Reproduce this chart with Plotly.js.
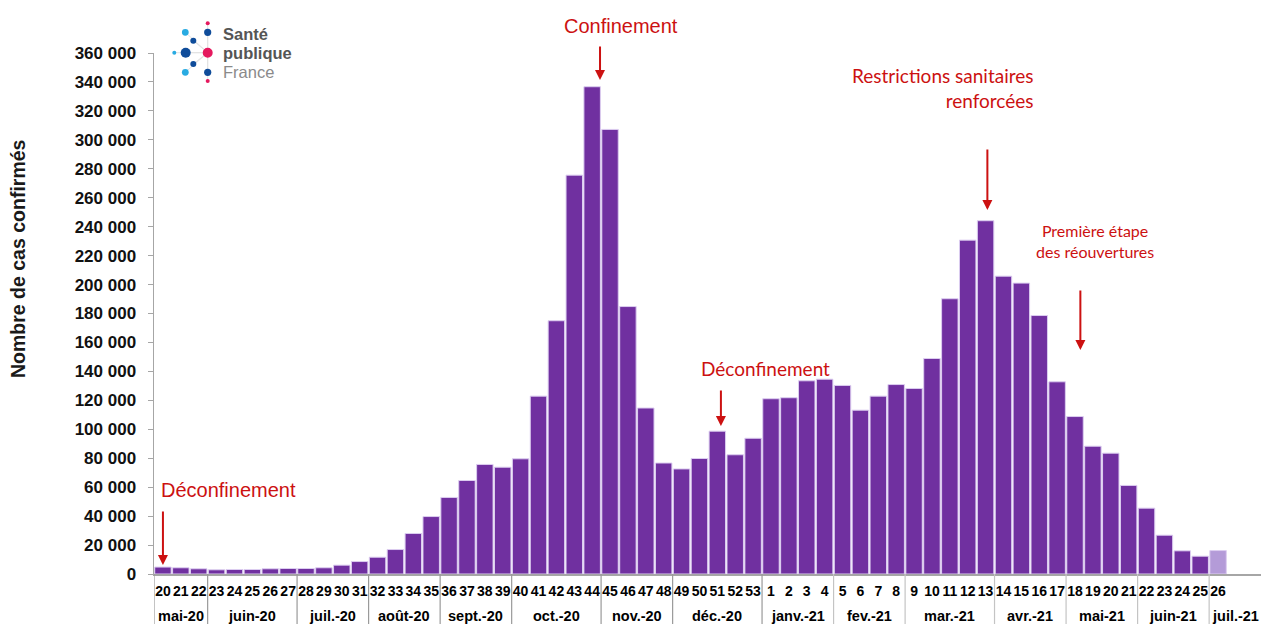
<!DOCTYPE html>
<html>
<head>
<meta charset="utf-8">
<script src="https://cdn.plot.ly/plotly-3.0.1.min.js"></script>
<style>
  html, body { margin: 0; padding: 0; background: #ffffff; }
  #chart { width: 1261px; height: 624px; }
</style>
</head>
<body>
<div id="chart"></div>
<script>
// ---- Data ----
const weeks = [20,21,22,23,24,25,26,27,28,29,30,31,32,33,34,35,36,37,38,39,40,41,42,43,44,45,46,47,48,49,50,51,52,53,
               1,2,3,4,5,6,7,8,9,10,11,12,13,14,15,16,17,18,19,20,21,22,23,24,25,26];
const cases = [4800,4300,3600,2900,3100,3100,3600,3800,3800,4300,6100,8600,11600,16900,28000,39700,52900,64600,75700,73800,
               79600,122900,175000,275600,336700,307200,184800,114700,76700,72600,79800,98700,82400,93800,
               121100,121800,133500,134600,130300,113200,122900,130900,128200,148900,190200,230700,244100,205800,201000,178600,
               132800,108800,88300,83500,61200,45500,26800,16000,12300,16200];
const monthNames = ["mai-20","juin-20","juil.-20","août-20","sept.-20","oct.-20","nov.-20","déc.-20",
                    "janv.-21","fev.-21","mar.-21","avr.-21","mai-21","juin-21","juil.-21"];
const weeksPerMonth = [3,5,4,4,4,5,4,5,4,4,5,4,4,4,1];
const provisional = [false,false,false,false,false,false,false,false,false,false,false,false,false,false,false,
                     false,false,false,false,false,false,false,false,false,false,false,false,false,false,false,
                     false,false,false,false,false,false,false,false,false,false,false,false,false,false,false,
                     false,false,false,false,false,false,false,false,false,false,false,false,false,false,true];
const yTitle = "Nombre de cas confirmés";

// events: label, arrow position (bar sequence index / value), text position
const events = [
  {text: "Déconfinement", arrowX: 0, arrowY: 6200, tail: -55, textX: 3.67, textY: 58000, size: 20, font: "Liberation Sans, Arial, sans-serif", align: "center", xanchor: "center"},
  {text: "Confinement", arrowX: 24.44, arrowY: 341400, tail: -35, textX: 25.6, textY: 378700, size: 20, font: "Liberation Sans, Arial, sans-serif", align: "center", xanchor: "center"},
  {text: "Déconfinement", arrowX: 31.2, arrowY: 102300, tail: -37, textX: 33.7, textY: 142300, size: 19, font: "Lato, sans-serif", align: "center", xanchor: "center"},
  {text: "Restrictions sanitaires<br>renforcées", arrowX: 46.1, arrowY: 251500, tail: -62, textX: 48.8, textY: 335800, size: 19, font: "Lato, sans-serif", align: "right", xanchor: "right"},
  {text: "Première étape<br>des réouvertures", arrowX: 51.3, arrowY: 154800, tail: -61, textX: 52.1, textY: 230100, size: 16, font: "Lato, sans-serif", align: "center", xanchor: "center"}
];

// ---- Derived ----
const idx = weeks.map((w, i) => i);
const xMax = 61.4;
const yMax = 360000;
const barColors = provisional.map(p => p ? "#b49bd8" : "#7030a0");
const red = "#cc1111";

// month groups
const groups = [];
let start = 0;
weeksPerMonth.forEach((n, g) => {
  const s = start - 0.5;
  const e = (g === weeksPerMonth.length - 1) ? xMax : start + n - 0.5;
  groups.push({name: monthNames[g], s: s, e: e});
  start += n;
});

// geometry helpers (pixel -> paper) for the decorative logo and title
const M = {l: 154, r: 0, t: 53, b: 50};
const W = 1261, H = 624;
const pw = W - M.l - M.r, ph = H - M.t - M.b;
const px = x => (x - M.l) / pw;
const py = y => (H - M.b - y) / ph;

const shapes = [];
const annotations = [];

// month dividers and month labels
const bottomPaper = -M.b / ph;
groups.forEach((g, i) => {
  shapes.push({type: "line", xref: "x", yref: "paper", x0: g.s, x1: g.s, y0: 0, y1: bottomPaper,
               line: {color: i < 9 ? "#9a9a9a" : "#c4c4c4", width: 1.2}});
  annotations.push({xref: "x", yref: "paper", x: (g.s + g.e) / 2, y: 0, yshift: -42,
                    text: g.name, showarrow: false, yanchor: "middle", xanchor: "center",
                    font: {family: "Liberation Sans, Arial, sans-serif", size: 14.5, color: "#000", weight: "bold"}});
});

// events (text above the plot area is anchored in paper units so it is not hidden)
events.forEach(ev => {
  annotations.push({xref: "x", yref: "y", x: ev.arrowX, y: ev.arrowY, ax: 0, ay: ev.tail, text: "",
                    showarrow: true, arrowhead: 2, arrowsize: 1, arrowwidth: 2, arrowcolor: red, standoff: 0});
  const above = ev.textY > yMax;
  annotations.push({xref: "x", yref: above ? "paper" : "y", x: ev.textX, y: above ? ev.textY / yMax : ev.textY,
                    text: ev.text, showarrow: false,
                    align: ev.align, xanchor: ev.xanchor, yanchor: "middle",
                    font: {family: ev.font, size: ev.size, color: red}});
});

// y-axis title (placed like the reference, off-centre)
annotations.push({xref: "paper", yref: "paper", x: px(18), y: py(259), text: yTitle, textangle: -90,
                  showarrow: false, xanchor: "center", yanchor: "middle",
                  font: {family: "Liberation Sans, Arial, sans-serif", size: 19.5, color: "#1a1a1a", weight: "bold"}});

// logo: Santé publique France
const hub = [207.7, 52.7];
const dots = [
  [207.7, 23.3, 2, "#e5195e"], [207.7, 32.3, 3.6, "#0f4c9a"], [185.3, 32.3, 3.4, "#29abe2"],
  [193.3, 40.7, 3, "#0f4c9a"], [174.3, 52.7, 2, "#29abe2"], [185.7, 52.7, 5, "#0f4c9a"],
  [207.7, 52.7, 5, "#e5195e"], [193.3, 64, 3, "#0f4c9a"], [185.3, 72.3, 3.4, "#29abe2"],
  [207.7, 72.3, 3.6, "#0f4c9a"], [207.7, 81, 2, "#e5195e"]
];
dots.forEach(d => {
  if (d[0] !== hub[0] || d[1] !== hub[1]) {
    shapes.push({type: "line", xref: "paper", yref: "paper", x0: px(hub[0]), y0: py(hub[1]), x1: px(d[0]), y1: py(d[1]),
                 line: {color: "#e2e2e2", width: 1}, layer: "below"});
  }
});
dots.forEach(d => {
  shapes.push({type: "circle", xref: "paper", yref: "paper", x0: px(d[0] - d[2]), x1: px(d[0] + d[2]),
               y0: py(d[1] + d[2]), y1: py(d[1] - d[2]), fillcolor: d[3], line: {width: 0}});
});
[["Santé", 34, "#555555", "bold"], ["publique", 52.5, "#555555", "bold"], ["France", 71.5, "#8a8a8a", "normal"]].forEach(t => {
  annotations.push({xref: "paper", yref: "paper", x: px(221), y: py(t[1]), text: t[0], showarrow: false,
                    xanchor: "left", yanchor: "middle",
                    font: {family: "Liberation Sans, Arial, sans-serif", size: 16.5, color: t[2], weight: t[3]}});
});

const trace = {
  type: "bar",
  x: idx,
  y: cases,
  marker: {color: barColors, line: {color: "#dccdf0", width: 1}},
  hoverinfo: "y"
};

const layout = {
  width: W, height: H,
  margin: M,
  paper_bgcolor: "#ffffff",
  plot_bgcolor: "#ffffff",
  separators: ", ",
  bargap: 0.08,
  showlegend: false,
  xaxis: {
    range: [-0.5, xMax],
    tickvals: idx,
    ticktext: weeks.map(String),
    tickangle: 0,
    ticks: "",
    showline: true, linecolor: "#a6a6a6", linewidth: 1.5,
    showgrid: false, zeroline: false,
    ticklabelstandoff: 4,
    tickfont: {family: "Liberation Sans, Arial, sans-serif", size: 14, color: "#000", weight: "bold"}
  },
  yaxis: {
    range: [0, yMax],
    dtick: 20000,
    tickformat: ",d",
    ticks: "outside", ticklen: 5, tickcolor: "#a6a6a6",
    showline: true, linecolor: "#a6a6a6", linewidth: 1.5,
    showgrid: false, zeroline: false,
    ticklabelstandoff: 8,
    tickfont: {family: "Liberation Sans, Arial, sans-serif", size: 17, color: "#111", weight: "bold"}
  },
  shapes: shapes,
  annotations: annotations
};

Plotly.newPlot("chart", [trace], layout, {displayModeBar: false, staticPlot: true});
</script>
</body>
</html>
